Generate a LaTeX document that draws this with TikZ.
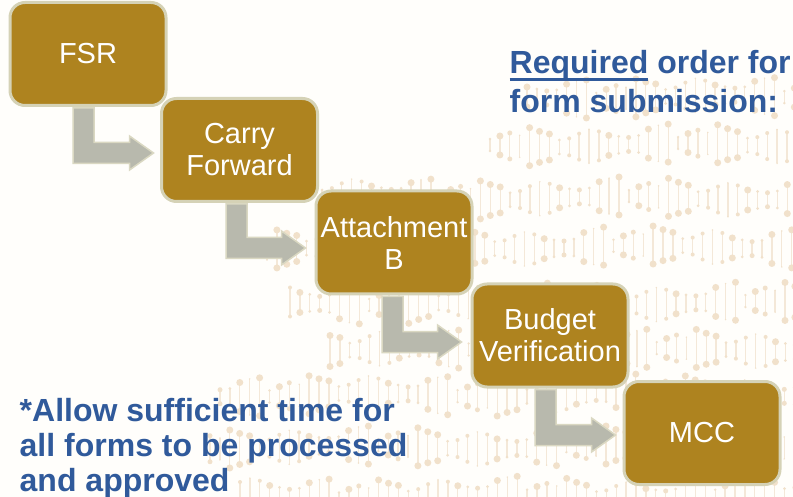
\documentclass[tikz,border=0pt]{standalone}
\usepackage{fontspec}
\setmainfont{Liberation Sans}
\usetikzlibrary{calc}
\definecolor{bgc}{HTML}{FFFEFB}
\definecolor{gold}{HTML}{AE831F}
\definecolor{goldedge}{HTML}{D5D2B6}
\definecolor{arrowfill}{HTML}{B8B9AD}
\definecolor{arrowedge}{HTML}{DAD8C2}
\definecolor{bluetext}{HTML}{305A9B}
\definecolor{dna}{HTML}{F1E1CB}
\definecolor{dnaline}{HTML}{F4E8D8}
\tikzset{
  stepbox/.style={draw=goldedge,line width=3pt,fill=gold,rounded corners=15pt,minimum width=156pt,minimum height=103pt,inner sep=0pt,align=center,text=white,font=\fontsize{29}{32}\selectfont},
  note/.style={anchor=north west,inner sep=0pt,align=left,text=bluetext,font=\fontsize{32}{34.6}\selectfont\bfseries},
  bent/.style={draw=arrowedge,line width=1.5pt,fill=arrowfill,line join=miter}
}
\newcommand{\ulrule}[1]{\setbox0=\hbox{#1}\rlap{\rule[-7.5pt]{\wd0}{3pt}}\box0\relax}
% from node, to node, left offset of the shaft, tip offset x, tip offset y
\newcommand{\bentarrow}[5]{%
  \draw[bent] ($(#1.south)+(#3,1)$) -- ($(#1.south)+(#3+21,1)$) |- ($(#2.west)+(#4-24,#5-10.5)$)
    -- ($(#2.west)+(#4-24,#5-17)$) -- ($(#2.west)+(#4,#5)$) -- ($(#2.west)+(#4-24,#5+17)$)
    -- ($(#2.west)+(#4-24,#5+10.5)$) -| cycle;}
\begin{document}
\begin{tikzpicture}[x=1pt,y=-1pt]
\useasboundingbox (0,0) rectangle (793,497);
\fill[bgc] (0,0) rectangle (793,497);
\begin{scope}
\clip (0,0) rectangle (793,497);
\def\hl{{6,9.5,13,11,19,15.5,13,7,8.5,13,17,14.5,10,8.5,7,8.5,14.5,18,19}}
\def\br{{1.3,3.5,2.5,0.8,3.5,3.5,3.5,1.5,2,2,0.8,2,3.5,1.5,2.5,1.5,3.5,0.8,3.5}}
\foreach \ry/\rx/\off in {97/527/12,145/490/0,198/322/7,247/267/3,303/290/11,350/330/5,395/220/14,447/210/2,497/240/9}{
  \foreach \i in {0,...,58}{
    \pgfmathsetmacro{\bx}{\rx+\i*9.9}
    \pgfmathtruncatemacro{\k}{mod(\i+\off,19)}
    \pgfmathsetmacro{\h}{\hl[\k]}
    \pgfmathsetmacro{\r}{\br[\k]}
    \pgfmathsetmacro{\cy}{\ry+2*sin(\i*14+\off*30)}
    \ifdim\bx pt<800pt
      \draw[dnaline,line width=1.3pt] (\bx,\cy-\h) -- (\bx,\cy+\h);
      \fill[dna] (\bx,\cy-\h) circle (\r);
      \fill[dna] (\bx,\cy+\h) circle (\r);
    \fi
  }
}
\end{scope}
\node[stepbox] (fsr) at (88,54) {FSR};
\node[stepbox] (carry) at (239.5,150) {Carry\\Forward};
\node[stepbox] (att) at (394,242.5) {Attachment\\B};
\node[stepbox] (bud) at (550,335.5) {Budget\\Verification};
\node[stepbox] (mcc) at (702,433) {MCC};
\bentarrow{fsr}{carry}{-15}{-6.5}{3}
\bentarrow{carry}{att}{-13.5}{-9}{5.5}
\bentarrow{att}{bud}{-12}{-9}{6.5}
\bentarrow{bud}{mcc}{-15}{-7}{2}
\node[note,font=\fontsize{32}{39.5}\selectfont\bfseries] (title) at (509.5,50) {\ulrule{Required} order for\\form submission:};
\node[note] (allow) at (19.5,398.5) {*Allow sufficient time for\\all forms to be processed\\and approved};
\end{tikzpicture}
\end{document}
